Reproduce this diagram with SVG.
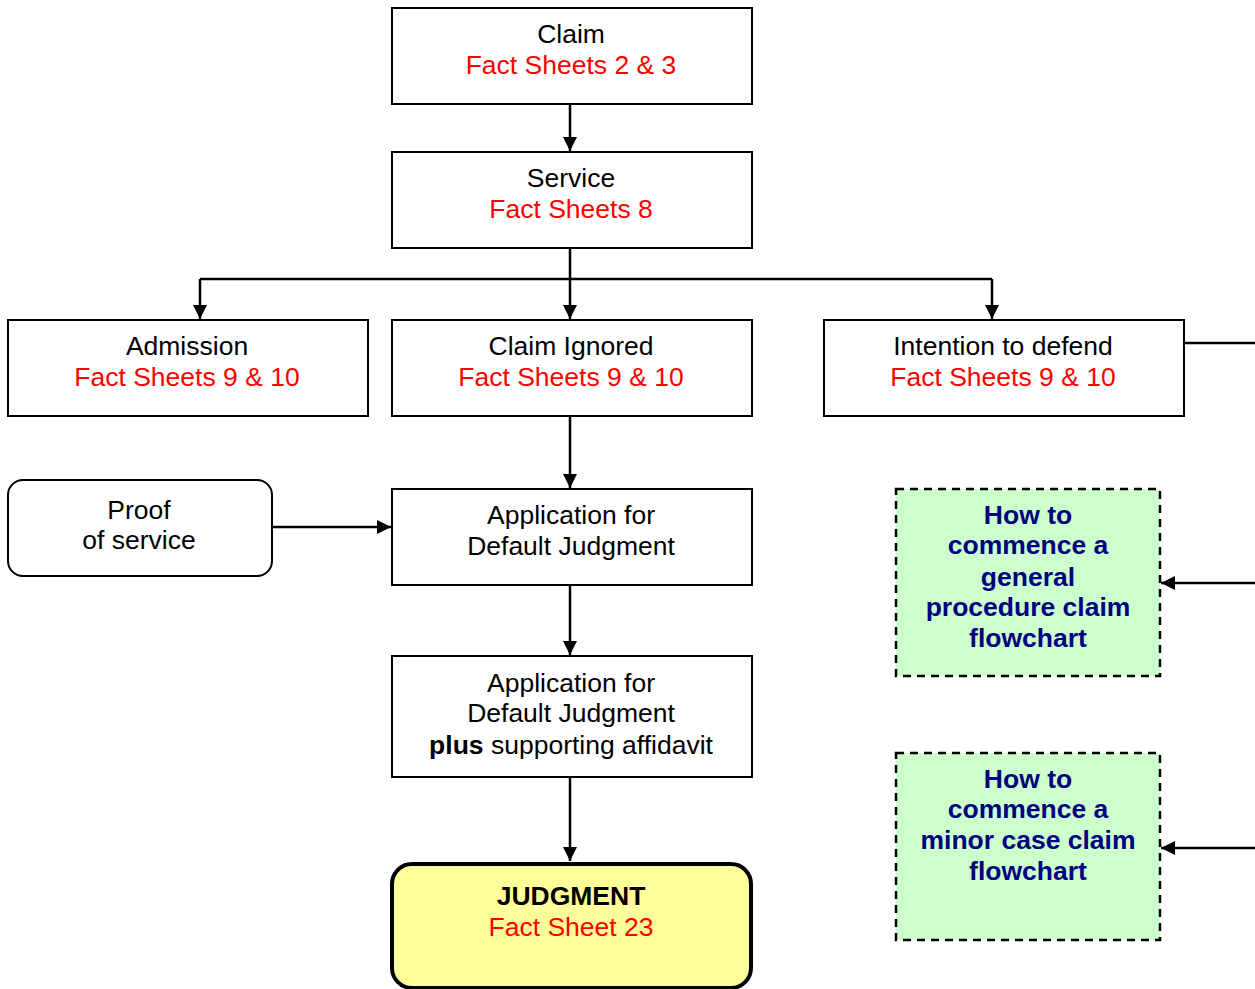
<svg xmlns="http://www.w3.org/2000/svg" width="1255" height="989" viewBox="0 0 1255 989">
<style>
.box{fill:#fff;stroke:#000;stroke-width:2}
.t{font-family:"Liberation Sans",Arial,sans-serif;font-size:26.5px;text-anchor:middle;fill:#000}
.r{fill:#f00}
.b{font-weight:bold}
.g{font-family:"Liberation Sans",Arial,sans-serif;font-size:26.5px;font-weight:bold;text-anchor:middle;fill:#000080}
.green{fill:#ccffcc;stroke:#000;stroke-width:2.5;stroke-dasharray:8 6}
.c{fill:none;stroke:#000;stroke-width:2.5}
</style>
<defs>
<marker id="ah" markerWidth="16" markerHeight="14" refX="14" refY="7" orient="auto" markerUnits="userSpaceOnUse">
<path d="M0,0 L14,7 L0,14 Z" fill="#000"/>
</marker>
</defs>
<rect width="1255" height="989" fill="#fff"/>
<g id="connectors">
<line class="c" x1="570" y1="104" x2="570" y2="151" marker-end="url(#ah)"/>
<line class="c" x1="570" y1="248" x2="570" y2="319" marker-end="url(#ah)"/>
<line class="c" x1="200" y1="279" x2="992" y2="279"/>
<line class="c" x1="200" y1="279" x2="200" y2="319" marker-end="url(#ah)"/>
<line class="c" x1="992" y1="279" x2="992" y2="319" marker-end="url(#ah)"/>
<line class="c" x1="570" y1="416" x2="570" y2="488" marker-end="url(#ah)"/>
<line class="c" x1="272" y1="527" x2="391" y2="527" marker-end="url(#ah)"/>
<line class="c" x1="570" y1="585" x2="570" y2="655" marker-end="url(#ah)"/>
<line class="c" x1="570" y1="777" x2="570" y2="861" marker-end="url(#ah)"/>
<line class="c" x1="1184" y1="343" x2="1255" y2="343"/>
<line class="c" x1="1255" y1="583" x2="1161" y2="583" marker-end="url(#ah)"/>
<line class="c" x1="1255" y1="848" x2="1161" y2="848" marker-end="url(#ah)"/>
</g>
<g id="claim">
<rect class="box" x="392" y="8" width="360" height="96"/>
<text class="t" x="571" y="43">Claim</text>
<text class="t r" x="571" y="74">Fact Sheets 2 &amp; 3</text>
</g>
<g id="service">
<rect class="box" x="392" y="152" width="360" height="96"/>
<text class="t" x="571" y="187">Service</text>
<text class="t r" x="571" y="218">Fact Sheets 8</text>
</g>
<g id="admission">
<rect class="box" x="8" y="320" width="360" height="96"/>
<text class="t" x="187" y="355">Admission</text>
<text class="t r" x="187" y="386">Fact Sheets 9 &amp; 10</text>
</g>
<g id="claim-ignored">
<rect class="box" x="392" y="320" width="360" height="96"/>
<text class="t" x="571" y="355">Claim Ignored</text>
<text class="t r" x="571" y="386">Fact Sheets 9 &amp; 10</text>
</g>
<g id="intention">
<rect class="box" x="824" y="320" width="360" height="96"/>
<text class="t" x="1003" y="355">Intention to defend</text>
<text class="t r" x="1003" y="386">Fact Sheets 9 &amp; 10</text>
</g>
<g id="proof">
<rect class="box" x="8" y="480" width="264" height="96" rx="15"/>
<text class="t" x="139" y="519">Proof</text>
<text class="t" x="139" y="549">of service</text>
</g>
<g id="app-default">
<rect class="box" x="392" y="489" width="360" height="96"/>
<text class="t" x="571" y="524">Application for</text>
<text class="t" x="571" y="555">Default Judgment</text>
</g>
<g id="app-affidavit">
<rect class="box" x="392" y="656" width="360" height="121"/>
<text class="t" x="571" y="692">Application for</text>
<text class="t" x="571" y="722">Default Judgment</text>
<text class="t" x="571" y="754"><tspan class="b">plus</tspan> supporting affidavit</text>
</g>
<g id="judgment">
<rect x="392" y="864" width="359" height="124" rx="20" fill="#ffff99" stroke="#000" stroke-width="4"/>
<text class="t b" x="571" y="905">JUDGMENT</text>
<text class="t r" x="571" y="936">Fact Sheet 23</text>
</g>
<g id="general-procedure">
<rect class="green" x="896" y="489" width="264" height="187"/>
<text class="g" x="1028" y="524">How to</text>
<text class="g" x="1028" y="554">commence a</text>
<text class="g" x="1028" y="586">general</text>
<text class="g" x="1028" y="616">procedure claim</text>
<text class="g" x="1028" y="647">flowchart</text>
</g>
<g id="minor-case">
<rect class="green" x="896" y="753" width="264" height="187"/>
<text class="g" x="1028" y="788">How to</text>
<text class="g" x="1028" y="818">commence a</text>
<text class="g" x="1028" y="849">minor case claim</text>
<text class="g" x="1028" y="880">flowchart</text>
</g>
</svg>
